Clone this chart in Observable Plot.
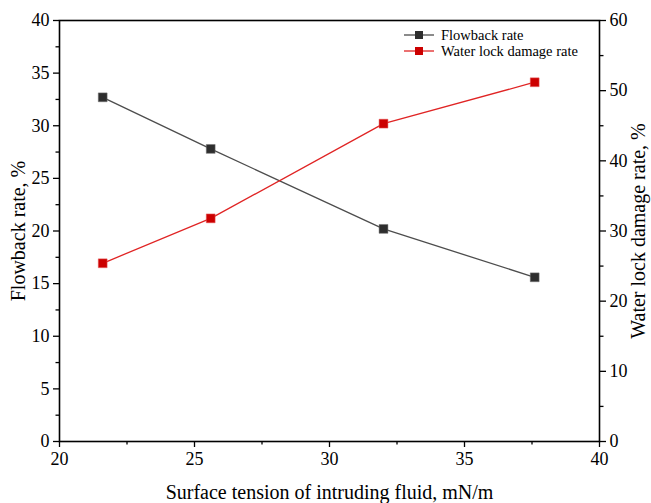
<!DOCTYPE html>
<html>
<head>
<meta charset="utf-8">
<script src="https://cdn.jsdelivr.net/npm/d3@7"></script>
<script src="https://cdn.jsdelivr.net/npm/@observablehq/plot@0.6"></script>
<style>
  html, body { margin: 0; padding: 0; background: #fff; }
  #wrap { position: relative; width: 651px; height: 503px; font-family: "Liberation Serif", "Times New Roman", serif; }
  #wrap svg { position: absolute; left: 0; top: 0; background: transparent; font-family: "Liberation Serif", serif !important; }
  #wrap svg text { font-family: "Liberation Serif", serif !important; }
  #legend { position: absolute; left: 403px; top: 27px; font-size: 14.5px; line-height: 16px; color: #000; }
  #legend .row { display: flex; align-items: center; height: 16px; }
  #legend svg { position: static; margin-right: 6px; }
</style>
</head>
<body>
<div id="wrap"><div id="legend"></div></div>
<script>
// ---- data ----
const surfaceTension = [21.6, 25.6, 32.0, 37.6];
const flowbackRate = [32.7, 27.8, 20.2, 15.6];
const waterLockRate = [25.4, 31.8, 45.3, 51.2];
const xTicks = [20, 25, 30, 35, 40];
const xMinor = [22.5, 27.5, 32.5, 37.5];
const yLeftTicks = [0, 5, 10, 15, 20, 25, 30, 35, 40];
const yLeftMinor = [2.5, 7.5, 12.5, 17.5, 22.5, 27.5, 32.5, 37.5];
const yRightTicks = [0, 10, 20, 30, 40, 50, 60];
const yRightMinor = [5, 15, 25, 35, 45, 55];
const seriesNames = ["Flowback rate", "Water lock damage rate"];
const xLabel = "Surface tension of intruding fluid, mN/m";
const yLeftLabel = "Flowback rate, %";
const yRightLabel = "Water lock damage rate, %";

const flow = surfaceTension.map((x, i) => ({x, y: flowbackRate[i]}));
const water = surfaceTension.map((x, i) => ({x, y: waterLockRate[i]}));

const common = {
  width: 651, height: 503,
  marginLeft: 59, marginRight: 52, marginTop: 20, marginBottom: 62,
  style: {fontFamily: "Liberation Serif, Times New Roman, serif", fontSize: "18px", color: "#000", background: "transparent"}
};

const grey = "#4d4d4d", red = "#e02424";

const left = Plot.plot({
  ...common,
  x: {domain: [20, 40]},
  y: {domain: [0, 40]},
  marks: [
    Plot.axisX({ticks: xTicks, tickSize: 6, tickPadding: 5, tickFormat: d => d, label: null, strokeWidth: 1.3, fontSize: 18}),
    Plot.axisX({ticks: xMinor, tickSize: 3.5, tickFormat: () => "", label: null, strokeWidth: 1.3}),
    Plot.axisY({ticks: yLeftTicks, tickSize: 6, tickPadding: 4, tickFormat: d => d, label: null, strokeWidth: 1.3, fontSize: 18}),
    Plot.axisY({ticks: yLeftMinor, tickSize: 3.5, tickFormat: () => "", label: null, strokeWidth: 1.3}),
    Plot.frame({stroke: "#000", strokeWidth: 1.6}),
    Plot.line(flow, {x: "x", y: "y", stroke: grey, strokeWidth: 1.3}),
    Plot.dot(flow, {x: "x", y: "y", symbol: "square", r: 5, fill: "#2e2e2e", stroke: "#777", strokeWidth: 0.5}),
    Plot.text([xLabel], {frameAnchor: "bottom", dy: 57, fontSize: 20, lineAnchor: "bottom", textAnchor: "middle"}),
    Plot.text([yLeftLabel], {frameAnchor: "left", dx: -41, rotate: -90, fontSize: 20, textAnchor: "middle"})
  ]
});

const right = Plot.plot({
  ...common,
  x: {domain: [20, 40], axis: null},
  y: {domain: [0, 60]},
  marks: [
    Plot.axisY({anchor: "right", ticks: yRightTicks, tickSize: 6, tickPadding: 4, tickFormat: d => d, label: null, strokeWidth: 1.3, fontSize: 18}),
    Plot.axisY({anchor: "right", ticks: yRightMinor, tickSize: 3.5, tickFormat: () => "", label: null, strokeWidth: 1.3}),
    Plot.line(water, {x: "x", y: "y", stroke: red, strokeWidth: 1.3}),
    Plot.dot(water, {x: "x", y: "y", symbol: "square", r: 5, fill: "#cc0000", stroke: "#e86060", strokeWidth: 0.5}),
    Plot.text([yRightLabel], {frameAnchor: "right", dx: 39, rotate: -90, fontSize: 20, textAnchor: "middle"})
  ]
});

const wrap = document.getElementById("wrap");
wrap.insertBefore(left, wrap.firstChild);
wrap.insertBefore(right, document.getElementById("legend"));

// legend
const legend = document.getElementById("legend");
const legendColors = [[grey, "#2e2e2e"], [red, "#cc0000"]];
seriesNames.forEach((name, i) => {
  const row = document.createElement("div");
  row.className = "row";
  const s = d3.create("svg").attr("width", 32).attr("height", 12);
  s.append("line").attr("x1", 1).attr("x2", 31).attr("y1", 6).attr("y2", 6)
    .attr("stroke", legendColors[i][0]).attr("stroke-width", 1.3);
  s.append("rect").attr("x", 12).attr("y", 2).attr("width", 8).attr("height", 8)
    .attr("fill", legendColors[i][1]);
  row.appendChild(s.node());
  const t = document.createElement("span");
  t.textContent = name;
  row.appendChild(t);
  legend.appendChild(row);
});
</script>
</body>
</html>
